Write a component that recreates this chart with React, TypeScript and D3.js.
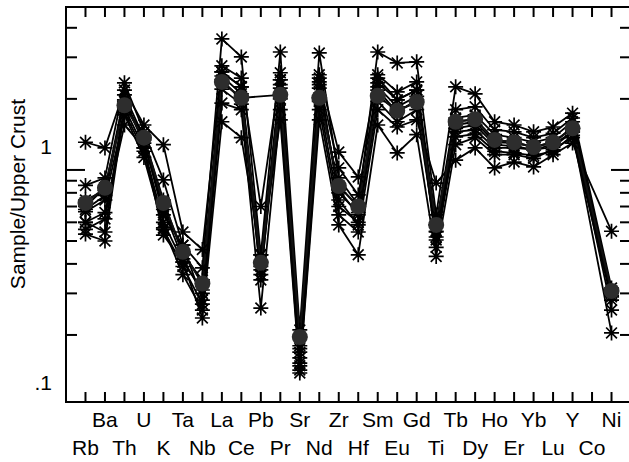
import React from "react";
import * as d3 from "d3";

const elements = ["Rb","Ba","Th","U","K","Ta","Nb","La","Ce","Pb","Pr","Sr","Nd","Zr","Hf","Sm","Eu","Gd","Ti","Tb","Dy","Ho","Er","Yb","Lu","Y","Co","Ni"];

//                Rb    Ba    Th    U     K     Ta    Nb    La    Ce    Pb    Pr    Sr    Nd    Zr    Hf    Sm    Eu    Gd    Ti    Tb    Dy    Ho    Er    Yb    Lu    Y     Co    Ni
const sampleA = [0.86, 0.925,2.34, 1.45, 0.907,0.48, 0.385,3.59, 3.01, 0.437,3.16, 0.21, 3.13, 0.925,0.71, 3.16, 2.84, 2.87, 0.645,2.25, 2.1,  1.6,  1.55, 1.45, 1.52, 1.74, null, 0.316];
const sampleB = [1.31, 1.24, 2.18, 1.55, 1.28, 0.546,0.46, 2.76, 2.45, 0.70, 2.58, 0.18, 2.53, 1.19, 0.934,2.53, 2.14, 2.36, 0.585,1.8,  1.85, 1.48, 1.45, 1.37, 1.43, 1.66, null, 0.293];
const sampleC = [0.746,0.82, 2.08, 1.37, 0.745,0.437,0.342,2.6,  2.25, 0.408,2.41, 0.169,2.36, 1.02, 0.784,2.34, 1.98, 2.18, 0.546,1.66, 1.71, 1.41, 1.37, 1.31, 1.37, 1.6,  null, 0.305];
const sampleD = [0.535,0.50, 1.83, 1.24, 0.60, 0.407,0.31, 2.41, 1.98, 0.377,2.22, 0.16, 2.22, 0.823,0.645,2.18, 1.76, 1.98, 0.505,1.55, 1.6,  1.31, 1.3,  1.26, 1.3,  1.52, null, 0.255];
const sampleE = [0.60, 0.546,1.98, 1.34, 0.645,0.48, 0.281,2.6,  2.25, 0.342,2.41, 0.152,2.45, 0.746,0.585,2.45, 1.98, 2.18, 0.47, 1.45, 1.48, 1.24, 1.24, 1.22, 1.25, 1.45, null, 0.204];
const sampleF = [0.665,0.746,1.71, 1.13, 0.568,0.36, 0.255,1.92, 1.8,  0.26, 1.8,  0.142,1.8,  0.645,0.546,1.8,  1.52, 1.63, 0.88, 1.1,  1.24, 1.02, 1.08, 1.03, 1.16, 1.3,  null, 0.55];
const sampleG = [0.60, 0.66, 1.55, 1.24, 0.53, 0.407,0.236,1.6,  1.37, 0.437,1.63, 0.138,1.63, 0.585,0.437,1.55, 1.18, 1.41, 0.43, 1.28, 1.37, 1.16, 1.16, 1.12, 1.22, 1.37, null, 0.281];
const sampleH = [0.70, 0.84, 1.88, 1.37, 0.70, 0.45, 0.33, 2.36, 2.02, null, 2.08, 0.196,2.02, 0.855,0.70, 2.06, 1.78, 1.94, 0.585,1.6,  1.64, 1.34, 1.31, 1.25, 1.31, 1.5,  null, 0.307];
const sampleI = [0.68, 0.78, 1.95, 1.30, 0.68, 0.42, 0.30, 2.5,  2.1,  0.39, 2.3,  0.175,2.3,  0.80, 0.66, 2.25, 1.85, 2.05, 0.55, 1.5,  1.55, 1.28, 1.26, 1.22, 1.28, 1.45, null, 0.30];
const sampleJ = [0.56, 0.62, 1.75, 1.20, 0.56, 0.39, 0.27, 2.2,  1.9,  0.36, 2.0,  0.148,1.95, 0.70, 0.60, 1.95, 1.6,  1.8,  0.52, 1.38, 1.42, 1.2,  1.18, 1.15, 1.2,  1.4,  null, 0.29];
const meanValues = [0.725,0.84, 1.88, 1.37, 0.725,0.45, 0.33, 2.36, 2.02, 0.404,2.08, 0.196,2.02, 0.855,0.70, 2.06, 1.78, 1.94, 0.585,1.6,  1.64, 1.34, 1.31, 1.25, 1.31, 1.5,  null, 0.307];

const samples = [sampleA, sampleB, sampleC, sampleD, sampleE, sampleF, sampleG, sampleH, sampleI, sampleJ];

const yMajorTicks = [1, 0.1];
const yMajorLabels = ["1", ".1"];
const yMinorTicks = [0.2, 0.3, 0.4, 0.5, 0.6, 0.7, 0.8, 0.9, 2, 3, 4];

const FONT = "'Liberation Sans', Arial, sans-serif";
const ASTER = "M-7.5,0H7.5M0,-7.5V7.5M-5.4,-5.4L5.4,5.4M-5.4,5.4L5.4,-5.4";

export default function App() {
  const W = 629, H = 462;
  const left = 66, right = 631, top = 7, bottom = 402;
  const x = d3.scaleLinear().domain([-1, 28]).range([left, right]);
  const y = d3.scaleLog().domain([0.104, 4.9]).range([bottom, top]);
  const line = d3.line<[number, number]>().x(d => x(d[0])).y(d => y(d[1]));
  const pts = (arr: (number | null)[]) =>
    arr.map((v, i) => [i, v] as [number, number | null]).filter(d => d[1] != null) as [number, number][];

  return (
    <svg width={W} height={H} style={{ position: "absolute", left: 0, top: 0, background: "#fff" }}>
      <rect x={0} y={0} width={W} height={H} fill="#fff" />
      {samples.map((s, k) => (
        <path key={"l" + k} d={line(pts(s)) || ""} fill="none" stroke="#000" strokeWidth={1.8} strokeLinejoin="round" />
      ))}
      <path d={line(pts(meanValues)) || ""} fill="none" stroke="#111" strokeWidth={2} strokeLinejoin="round" />
      {samples.map((s, k) =>
        pts(s).map(d => (
          <path key={"m" + k + "_" + d[0]} d={ASTER} transform={`translate(${x(d[0])},${y(d[1])})`} stroke="#000" strokeWidth={1.7} fill="none" />
        ))
      )}
      {pts(meanValues).map(d => (
        <circle key={"c" + d[0]} cx={x(d[0])} cy={y(d[1])} r={8} fill="#2d2d2d" />
      ))}
      <rect x={left} y={top} width={right - left} height={bottom - top} fill="none" stroke="#000" strokeWidth={2} />
      {elements.map((e, i) => (
        <g key={"xt" + i}>
          <line x1={x(i)} x2={x(i)} y1={bottom} y2={bottom - 10} stroke="#000" strokeWidth={2} />
          <line x1={x(i)} x2={x(i)} y1={top} y2={top + 10} stroke="#000" strokeWidth={2} />
          <text x={x(i)} y={i % 2 === 0 ? 455 : 427} textAnchor="middle" fontFamily={FONT} fontSize={21} fill="#000">{e}</text>
        </g>
      ))}
      {yMinorTicks.map(t => (
        <g key={"ym" + t}>
          <line x1={left} x2={left + 11} y1={y(t)} y2={y(t)} stroke="#000" strokeWidth={2} />
          <line x1={right} x2={right - 11} y1={y(t)} y2={y(t)} stroke="#000" strokeWidth={2} />
        </g>
      ))}
      {yMajorTicks.map((t, i) => (
        <g key={"yM" + t}>
          {y(t) >= top && y(t) <= bottom && (
            <>
              <line x1={left} x2={left + 19} y1={y(t)} y2={y(t)} stroke="#000" strokeWidth={2} />
              <line x1={right} x2={right - 20} y1={y(t)} y2={y(t)} stroke="#000" strokeWidth={2} />
            </>
          )}
          <text x={52} y={y(t) - 16} textAnchor="end" fontFamily={FONT} fontSize={21} fill="#000">{yMajorLabels[i]}</text>
        </g>
      ))}
      <text transform={`translate(25,194) rotate(-90)`} textAnchor="middle" fontFamily={FONT} fontSize={21} fill="#000">Sample/Upper Crust</text>
    </svg>
  );
}
